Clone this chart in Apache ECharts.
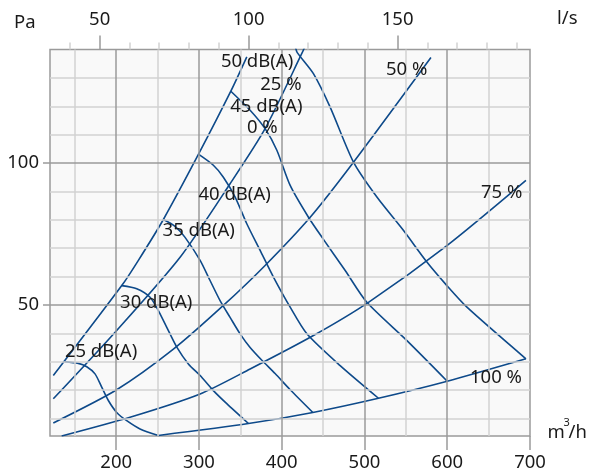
<!DOCTYPE html>
<html><head><meta charset="utf-8">
<script src="https://cdn.jsdelivr.net/npm/echarts@6/dist/echarts.min.js"></script>
<style>html,body{margin:0;padding:0;background:#fff}#c{width:590px;height:474px}</style>
</head><body><div id="c"></div>
<script>
// ---- axes (m³/h bottom, l/s top, Pa left)
const xRange = [120, 700];
const yRange = [3.8, 140];
const xTickValues = [200, 300, 400, 500, 600, 700];
const yTickValues = [50, 100];
const lsMajorTicks = [50, 100, 150];
const lsMinorTicks = [40, 60, 70, 80, 90, 110, 120, 130, 140, 160, 170, 180, 190];
const xGridMajor = [200, 300, 400, 500, 600];
const xGridMinor = [150, 250, 350, 450, 550, 650];
const yGridMajor = [50, 100];
const yGridMinor = [10, 20, 30, 40, 60, 70, 80, 90, 110, 120, 130];

// ---- system curves (damper position)
const sys0 = [[124.0,25.1],[206.7,56.8],[226.8,65.7],[257,80.1],[299.3,103],[338.5,125.3],[357.8,137.4]];
const sys25 = [[124.0,16.9],[200.6,41],[277.2,66.8],[337.6,92.7],[379.9,112.1],[424.3,138.6],[428,141]];
const sys50 = [[124.0,8.4],[200.6,20.1],[269.1,34.4],[329.5,49.8],[379.9,63.9],[434.4,80.9],[486.7,100.3],[580.3,137.2]];
const sys75 = [[134.1,3.8],[216.7,10.4],[301.4,18.6],[361.8,27.4],[438.3,39.2],[504.8,50.9],[599.6,70.9],[695.1,93.9]];
const sys100 = [[251,4.0],[359.8,8.2],[437.6,12.1],[516.9,17.1],[600,23.1],[695.1,31.0]];

// ---- sound level curves
const db25 = [[137.5,30.0],[154.2,29.4],[164.4,28.2],[174.4,25.7],[182.5,21.0],[190.5,16.3],[200.6,12.1],[212.7,9.2],[228.8,6.3],[251,4.0]];
const db30 = [[206.7,56.8],[224.8,55.7],[240.9,52.7],[250.9,48.0],[261.1,42.1],[273.2,35.1],[287.2,29.2],[301.4,25.1],[317.4,19.8],[333.6,15.2],[359.8,8.2]];
const db35 = [[257,80.1],[271.1,77.7],[283.2,73.8],[301.4,65.7],[313.4,58.6],[325.5,51.5],[337.6,45.6],[349.7,39.8],[361.8,35.0],[376.3,30.4],[392,25.8],[410.2,20.1],[437.6,12.1]];
const db40 = [[299.3,103.1],[317.4,99.2],[329.5,95.0],[343.7,88.0],[357.8,78.6],[373.9,69.2],[390,59.8],[410.2,49.2],[430.4,39.8],[470.6,28.6],[516.9,17.1]];
const db45 = [[338.5,125.3],[361.8,118.6],[379.9,112.1],[394.1,104.5],[410.2,92.1],[432.3,80.9],[450.4,73.1],[476.7,62.1],[502.9,50.9],[551.3,37.4],[600,23.1]];
const db50 = [[416.5,141],[418.6,139.0],[438.3,131.5],[458.5,119.7],[486.7,100.3],[515,88.0],[547.2,76.2],[575.4,65.1],[599.6,56.8],[623.8,49.2],[695.1,31.0]];

// ---- curve labels
const labelTexts = ['50 dB(A)','25 %','45 dB(A)','0 %','40 dB(A)','35 dB(A)','30 dB(A)','25 dB(A)','50 %','75 %','100 %'];
const labelAnchors = [[326.5,135.6],[374,127.7],[337.7,120],[358,112.5],[299.4,88.8],[256,76],[204.7,50.6],[138,33.5],[526,132.7],[640.8,89.4],[627.5,24.5]];

const FONT = 'Noto Sans';
const FS = 18.5;
const TXT = '#1a1a1a';
const BLUE = '#0e4a8a';
const GRID_DARK = '#9a9a9a';
const GRID_LIGHT = '#d2d2d2';

const chart = echarts.init(document.getElementById('c'));
const curve = (name, data) => ({
  type: 'line', name, data, smooth: 0.25, symbol: 'none', silent: true, z: 3,
  lineStyle: { color: BLUE, width: 1.6 }
});
const gridLines = [].concat(
  xGridMinor.map(v => ({ xAxis: v, lineStyle: { color: GRID_LIGHT } })),
  yGridMinor.map(v => ({ yAxis: v, lineStyle: { color: GRID_LIGHT } })),
  xGridMajor.map(v => ({ xAxis: v, lineStyle: { color: GRID_DARK } })),
  yGridMajor.map(v => ({ yAxis: v, lineStyle: { color: GRID_DARK } }))
);
const lsMin = xRange[0] / 3.6, lsMax = xRange[1] / 3.6;
const txt = (t, x, y, size) => ({ type: 'text', x, y, silent: true, z: 100,
  style: { text: t, fill: TXT, fontSize: size || FS, fontFamily: FONT, align: 'left', verticalAlign: 'middle',
           lineWidth: 0, stroke: null } });

chart.setOption({
  animation: false,
  backgroundColor: '#ffffff',
  textStyle: { fontFamily: FONT },
  grid: { left: 50, right: 60, top: 49.5, bottom: 38, show: true, backgroundColor: '#f9f9f9',
          borderColor: GRID_DARK, borderWidth: 1.5, containLabel: false },
  xAxis: [
    { type: 'value', position: 'bottom', min: xRange[0], max: xRange[1],
      axisLine: { show: false }, splitLine: { show: false },
      axisTick: { show: true, length: 14, customValues: xTickValues, lineStyle: { color: GRID_DARK, width: 1.5 } },
      axisLabel: { customValues: xTickValues, fontSize: FS, color: TXT, fontFamily: FONT, margin: 17 } },
    { type: 'value', position: 'top', min: lsMin, max: lsMax,
      axisLine: { show: false }, splitLine: { show: false },
      axisTick: { show: true, length: 14, customValues: lsMajorTicks, lineStyle: { color: GRID_DARK, width: 1.5 } },
      axisLabel: { customValues: lsMajorTicks, fontSize: FS, color: TXT, fontFamily: FONT, margin: 20 } },
    { type: 'value', position: 'top', min: lsMin, max: lsMax,
      axisLine: { show: false }, splitLine: { show: false },
      axisTick: { show: true, length: 7, customValues: lsMinorTicks, lineStyle: { color: GRID_LIGHT, width: 1.5 } },
      axisLabel: { show: false } }
  ],
  yAxis: [
    { type: 'value', min: yRange[0], max: yRange[1],
      axisLine: { show: false }, splitLine: { show: false },
      axisTick: { show: true, length: 7, customValues: yTickValues, lineStyle: { color: GRID_DARK, width: 1.5 } },
      axisLabel: { customValues: yTickValues, fontSize: FS, color: TXT, fontFamily: FONT, margin: 11 } }
  ],
  series: [
    { type: 'line', data: [], z: 1, silent: true,
      markLine: { silent: true, symbol: 'none', label: { show: false }, animation: false,
        lineStyle: { type: 'solid', width: 1.5 }, emphasis: { disabled: true }, data: gridLines } },
    curve('0 %', sys0), curve('25 %', sys25), curve('50 %', sys50), curve('75 %', sys75), curve('100 %', sys100),
    curve('25 dB(A)', db25), curve('30 dB(A)', db30), curve('35 dB(A)', db35),
    curve('40 dB(A)', db40), curve('45 dB(A)', db45), curve('50 dB(A)', db50)
  ]
});

// curve labels placed through the chart's own scales
const curveLabels = labelAnchors.map((p, i) => {
  const px = chart.convertToPixel({ xAxisIndex: 0, yAxisIndex: 0 }, p);
  return txt(labelTexts[i], px[0], px[1]);
});
chart.setOption({
  graphic: curveLabels.concat([
    txt('Pa', 14, 23),
    txt('l/s', 557, 19),
    txt('m', 547.5, 433),
    txt('3', 563.5, 423, 11),
    txt('/h', 568.5, 433)
  ])
});
</script></body></html>
